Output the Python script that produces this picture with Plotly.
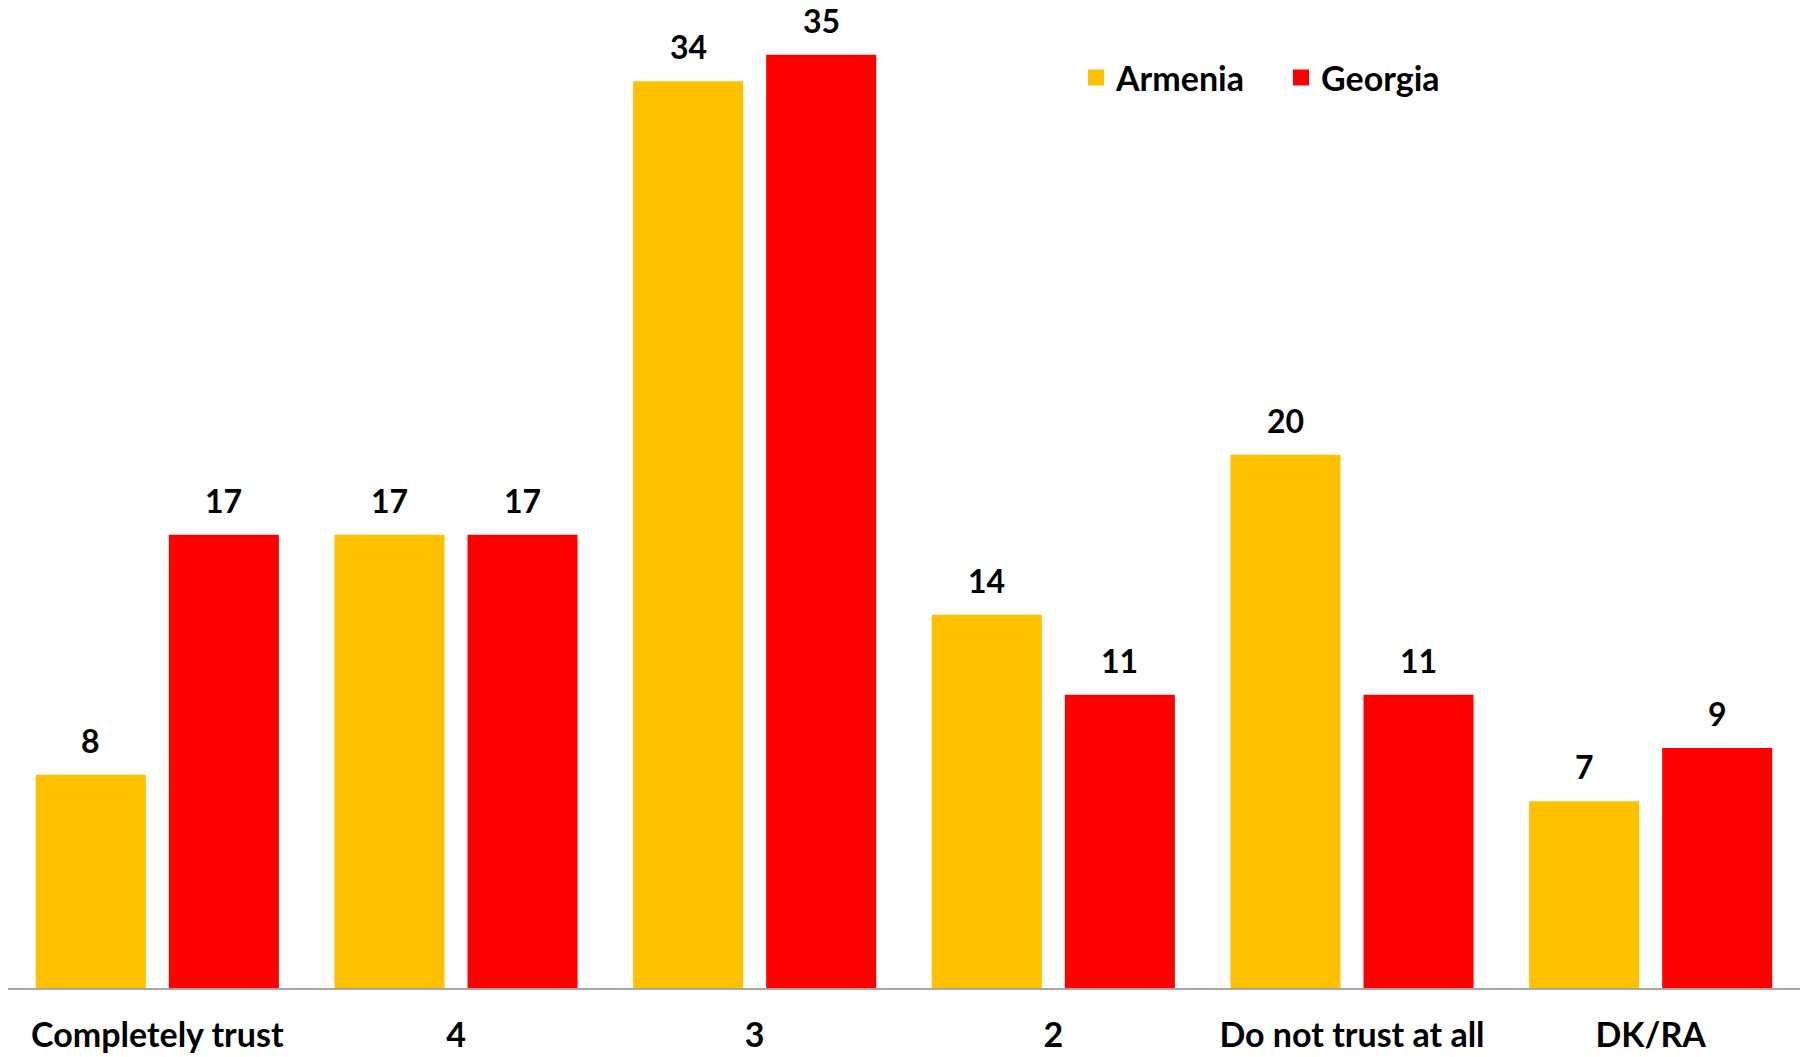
import plotly.graph_objects as go

categories = ["Completely trust", "4", "3", "2", "Do not trust at all", "DK/RA"]
armenia = [8, 17, 34, 14, 20, 7]
georgia = [17, 17, 35, 11, 11, 9]

YELLOW = "#FFC000"
RED = "#FF0000"
FONT = "Lato"

fig = go.Figure()
fig.add_trace(go.Bar(name="Armenia", x=categories, y=armenia, marker=dict(color=YELLOW, line=dict(width=0)), showlegend=False))
fig.add_trace(go.Bar(name="Georgia", x=categories, y=georgia, marker=dict(color=RED, line=dict(width=0)), showlegend=False))

# legend proxies (larger square swatches)
for name, col in [("Armenia", YELLOW), ("Georgia", RED)]:
    fig.add_trace(go.Scatter(x=[None], y=[None], mode="markers", name=name,
                             marker=dict(symbol="square", size=21, color=col)))

# value labels (category axis positions are indices)
for vals, shift in [(armenia, -66.5), (georgia, 66.5)]:
    for i, v in enumerate(vals):
        fig.add_annotation(x=i, y=v, text=str(v), showarrow=False, xshift=shift,
                           yanchor="bottom", yshift=13,
                           font=dict(family=FONT, size=32, color="black", weight="bold"))

fig.update_layout(
    width=1807, height=1057,
    margin=dict(l=8, r=7, t=4, b=69),
    paper_bgcolor="white", plot_bgcolor="white",
    barmode="group", bargap=0.109, bargroupgap=0.173,
    font=dict(family=FONT, size=34, color="black", weight="bold"),
    legend=dict(orientation="h", x=0.596, y=0.925, xanchor="left", yanchor="middle",
                font=dict(family=FONT, size=34, color="black", weight="bold"),
                bgcolor="rgba(0,0,0,0)", entrywidth=160, entrywidthmode="pixels"),
    showlegend=True,
)
fig.update_xaxes(type="category", automargin=False, showline=True, linecolor="#A6A6A6", linewidth=2,
                 showgrid=False, ticks="outside", ticklen=16, tickcolor="rgba(0,0,0,0)",
                 tickfont=dict(family=FONT, size=34, color="black", weight="bold"))
fig.update_yaxes(range=[0, 36.9], visible=False, automargin=False, showgrid=False, zeroline=False)

fig.write_html("out.html", config={"displayModeBar": False},
               post_script="document.body.style.margin='0';document.body.style.overflow='hidden';")
